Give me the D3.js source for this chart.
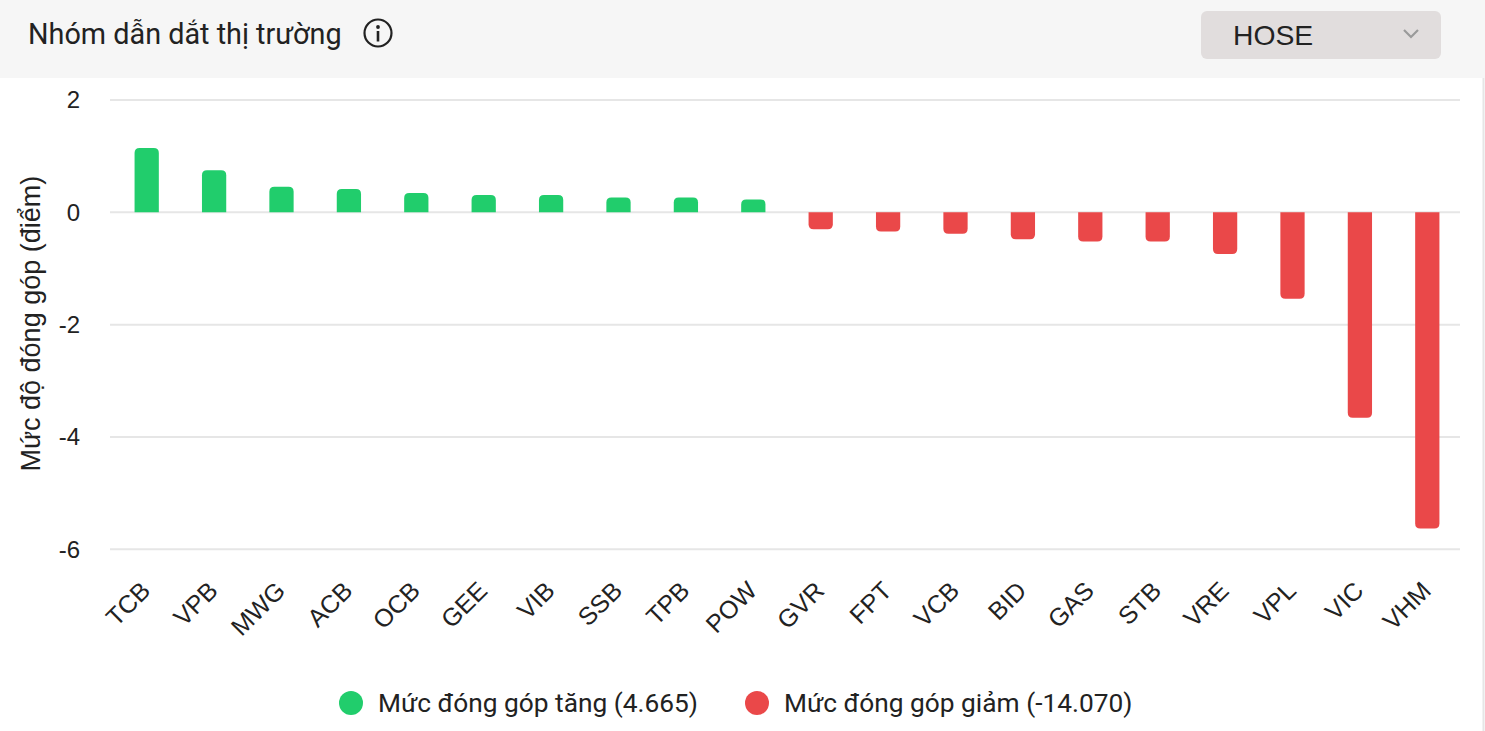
<!DOCTYPE html>
<html>
<head>
<meta charset="utf-8">
<script src="https://cdn.jsdelivr.net/npm/d3@7"></script>
<style>
  html, body { margin: 0; padding: 0; background: #ffffff; }
  svg { display: block; }
</style>
</head>
<body>
<svg id="chart" width="1485" height="731"></svg>
<script>
// ---- DATA ----
const categories = ["TCB","VPB","MWG","ACB","OCB","GEE","VIB","SSB","TPB","POW",
                    "GVR","FPT","VCB","BID","GAS","STB","VRE","VPL","VIC","VHM"];
const values = [1.147, 0.747, 0.455, 0.416, 0.344, 0.309, 0.309, 0.266, 0.266, 0.230,
                -0.30, -0.34, -0.38, -0.48, -0.52, -0.52, -0.74, -1.537, -3.657, -5.628];
const yTicks = [2, 0, -2, -4, -6];
const titleText = "Nhóm dẫn dắt thị trường";
const exchangeText = "HOSE";
const yAxisTitle = "Mức độ đóng góp (điểm)";
const legendLabels = ["Mức đóng góp tăng (4.665)", "Mức đóng góp giảm (-14.070)"];

const GREEN = "#21cd6c", RED = "#ea4849";

const svg = d3.select("#chart");
const W = 1485, H = 731;

// Header
svg.append("rect").attr("x", 0).attr("y", 0).attr("width", W).attr("height", 78).attr("fill", "#f6f6f6");
svg.append("line").attr("x1", 1483.5).attr("x2", 1483.5).attr("y1", 78).attr("y2", H)
  .attr("stroke", "#e6e6e6").attr("stroke-width", 2);

svg.append("text").attr("x", 28).attr("y", 44)
  .attr("font-family", "Roboto, sans-serif").attr("font-size", 28.8).attr("fill", "#222")
  .text(titleText);

// info icon
const info = svg.append("g").attr("transform", "translate(378,33)");
info.append("circle").attr("r", 13.5).attr("fill", "none").attr("stroke", "#222").attr("stroke-width", 2.2);
info.append("circle").attr("cx", 0).attr("cy", -6).attr("r", 1.9).attr("fill", "#222");
info.append("rect").attr("x", -1.3).attr("y", -2).attr("width", 2.6).attr("height", 10.5).attr("fill", "#222");

// dropdown
svg.append("rect").attr("x", 1201).attr("y", 11).attr("width", 240).attr("height", 48).attr("rx", 6)
  .attr("fill", "#e1dddd");
svg.append("text").attr("x", 1233).attr("y", 45)
  .attr("font-family", "'Liberation Sans', Arial, sans-serif").attr("font-size", 28.3).attr("fill", "#222")
  .text(exchangeText);
svg.append("path").attr("d", "M1404,30 L1411,37 L1418,30").attr("fill", "none")
  .attr("stroke", "#9a9a9a").attr("stroke-width", 2.2);

// Scales
const x = d3.scaleBand().domain(categories).range([113, 1461]).paddingInner(0.64).paddingOuter(0.32);
const y = d3.scaleLinear().domain([-6, 2]).range([549.3, 100]);

// grid
svg.append("g").selectAll("line").data(yTicks).join("line")
  .attr("x1", 110).attr("x2", 1460)
  .attr("y1", d => y(d)).attr("y2", d => y(d))
  .attr("stroke", "#e6e6e6").attr("stroke-width", 2);

// y tick labels
svg.append("g").selectAll("text").data(yTicks).join("text")
  .attr("x", 80).attr("y", d => y(d)).attr("dy", "0.35em")
  .attr("text-anchor", "end")
  .attr("font-family", "'Liberation Sans', Arial, sans-serif").attr("font-size", 24).attr("fill", "#222")
  .text(d => d);

// y axis title
svg.append("text")
  .attr("transform", `translate(40,${(y(2)+y(-6))/2 - 1}) rotate(-90)`)
  .attr("text-anchor", "middle")
  .attr("font-family", "'Liberation Sans', Arial, sans-serif").attr("font-size", 27).attr("fill", "#222")
  .text(yAxisTitle);

// bars
function barPath(cx, w, v) {
  const x0 = cx - w / 2, x1 = cx + w / 2;
  const y0 = y(0), y1 = y(v);
  const r = Math.min(5, Math.abs(y1 - y0));
  if (v >= 0) {
    return `M${x0},${y0} L${x0},${y1 + r} Q${x0},${y1} ${x0 + r},${y1} L${x1 - r},${y1} Q${x1},${y1} ${x1},${y1 + r} L${x1},${y0} Z`;
  } else {
    return `M${x0},${y0} L${x0},${y1 - r} Q${x0},${y1} ${x0 + r},${y1} L${x1 - r},${y1} Q${x1},${y1} ${x1},${y1 - r} L${x1},${y0} Z`;
  }
}
svg.append("g").selectAll("path").data(categories).join("path")
  .attr("d", (c, i) => barPath(x(c) + x.bandwidth() / 2, x.bandwidth(), values[i]))
  .attr("fill", (c, i) => values[i] >= 0 ? GREEN : RED);

// x labels
svg.append("g").selectAll("text").data(categories).join("text")
  .attr("transform", c => `translate(${x(c) + x.bandwidth() / 2 - 1},586) rotate(-45)`)
  .attr("dy", "0.35em")
  .attr("text-anchor", "end")
  .attr("font-family", "'Liberation Sans', Arial, sans-serif").attr("font-size", 25).attr("fill", "#222")
  .text(c => c);

// legend
const legendX = [351, 757];
const legendColors = [GREEN, RED];
const lg = svg.append("g");
legendLabels.forEach((t, i) => {
  lg.append("circle").attr("cx", legendX[i]).attr("cy", 703).attr("r", 12).attr("fill", legendColors[i]);
  lg.append("text").attr("x", legendX[i] + 27).attr("y", 703).attr("dy", "0.35em")
    .attr("font-family", "Roboto, sans-serif").attr("font-size", 26.3).attr("fill", "#222")
    .text(t);
});
</script>
</body>
</html>
